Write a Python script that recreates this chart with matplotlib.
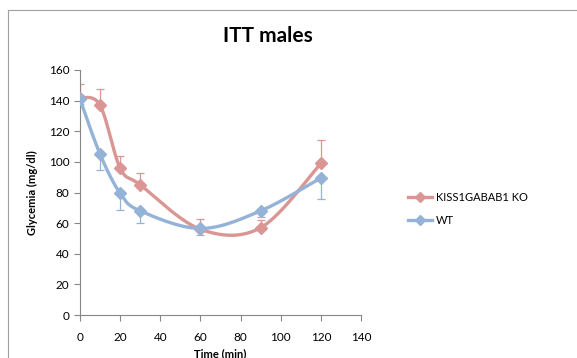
import numpy as np
import matplotlib.pyplot as plt
from matplotlib.lines import Line2D

time = [0, 10, 20, 30, 60, 90, 120]
ko_values = [142, 137, 96, 85, 56, 57, 99]
ko_err = [9, 10.5, 8, 8, 7, 5, 15]
wt_values = [141, 105, 79.5, 68, 56.5, 68, 89.5]
wt_err = [3, 10, 11, 8, 4.5, 4, 13.5]

ko_color = "#D99694"
wt_color = "#95B3D7"

plt.rcParams['font.family'] = ['Lato', 'DejaVu Sans']


def smooth(xs, ys, sx, sy, n=40):
    # Excel-style smoothed line: cubic Bezier with control points at 1/6 of neighbour chords,
    # computed in screen-like units (sx, sy scale factors)
    p = np.column_stack([np.array(xs, float) * sx, np.array(ys, float) * sy])
    out = []
    for i in range(len(p) - 1):
        p0 = p[i - 1] if i > 0 else p[i]
        p3 = p[i + 2] if i + 2 < len(p) else p[i + 1]
        c1 = p[i] + (p[i + 1] - p0) / 6
        c2 = p[i + 1] - (p3 - p[i]) / 6
        t = np.linspace(0, 1, n)[:, None]
        seg = ((1 - t) ** 3) * p[i] + 3 * ((1 - t) ** 2) * t * c1 + 3 * (1 - t) * t ** 2 * c2 + t ** 3 * p[i + 1]
        out.append(seg if i == 0 else seg[1:])
    out = np.vstack(out)
    return out[:, 0] / sx, out[:, 1] / sy


fig = plt.figure(figsize=(5.77, 3.58), dpi=100)
ax = fig.add_axes([80 / 577, 1 - 315 / 358, 281 / 577, 245 / 358])

sx = 281 / 140
sy = 245 / 160

for vals, err, col, lower in [(wt_values, wt_err, wt_color, True), (ko_values, ko_err, ko_color, False)]:
    yerr = [err, [0] * len(err)] if lower else [[0] * len(err), err]
    ax.errorbar(time, vals, yerr=yerr, fmt='none', ecolor=col, elinewidth=0.9, capsize=3, capthick=0.9, zorder=2)

for vals, col in [(ko_values, ko_color), (wt_values, wt_color)]:
    xs, ys = smooth(time, vals, sx, sy)
    ax.plot(xs, ys, color=col, lw=2.4, solid_capstyle='round', zorder=3)
    ax.plot(time, vals, 'D', color=col, ms=6, zorder=4)

ax.set_xlim(0, 140)
ax.set_ylim(0, 160)
ax.set_xticks(range(0, 141, 20))
ax.set_yticks(range(0, 161, 20))
for s in ['top', 'right']:
    ax.spines[s].set_visible(False)
for s in ['left', 'bottom']:
    ax.spines[s].set_color('#868686')
    ax.spines[s].set_linewidth(0.8)
ax.tick_params(axis='both', colors='#868686', labelcolor='black', labelsize=8.5, length=4, width=0.8)
ax.tick_params(axis='x', pad=8)
ax.set_xlabel("Time (min)", fontsize=8, fontweight='bold', labelpad=4)
ax.set_ylabel("Glycemia (mg/dl)", fontsize=8, fontweight='bold', labelpad=8)

fig.text(268 / 577, 1 - 36 / 358, "ITT males", ha='center', va='center', fontsize=15, fontweight='bold')

handles = [Line2D([], [], color=ko_color, lw=2.4, marker='D', ms=5),
           Line2D([], [], color=wt_color, lw=2.4, marker='D', ms=5)]
fig.legend(handles, ["KISS1GABAB1 KO", "WT"], loc='center left', bbox_to_anchor=(398 / 577, 1 - 209 / 358),
           frameon=False, fontsize=8, handlelength=2.2, handletextpad=0.3, labelspacing=1.1)

# outer chart border (cropped on the right and bottom)
fig.add_artist(Line2D([8 / 577, 8 / 577], [0, 1 - 10 / 358], transform=fig.transFigure, color='#A0A0A0', lw=0.8))
fig.add_artist(Line2D([8 / 577, 1], [1 - 10 / 358, 1 - 10 / 358], transform=fig.transFigure, color='#A0A0A0', lw=0.8))

fig.savefig("out.png", dpi=100)
